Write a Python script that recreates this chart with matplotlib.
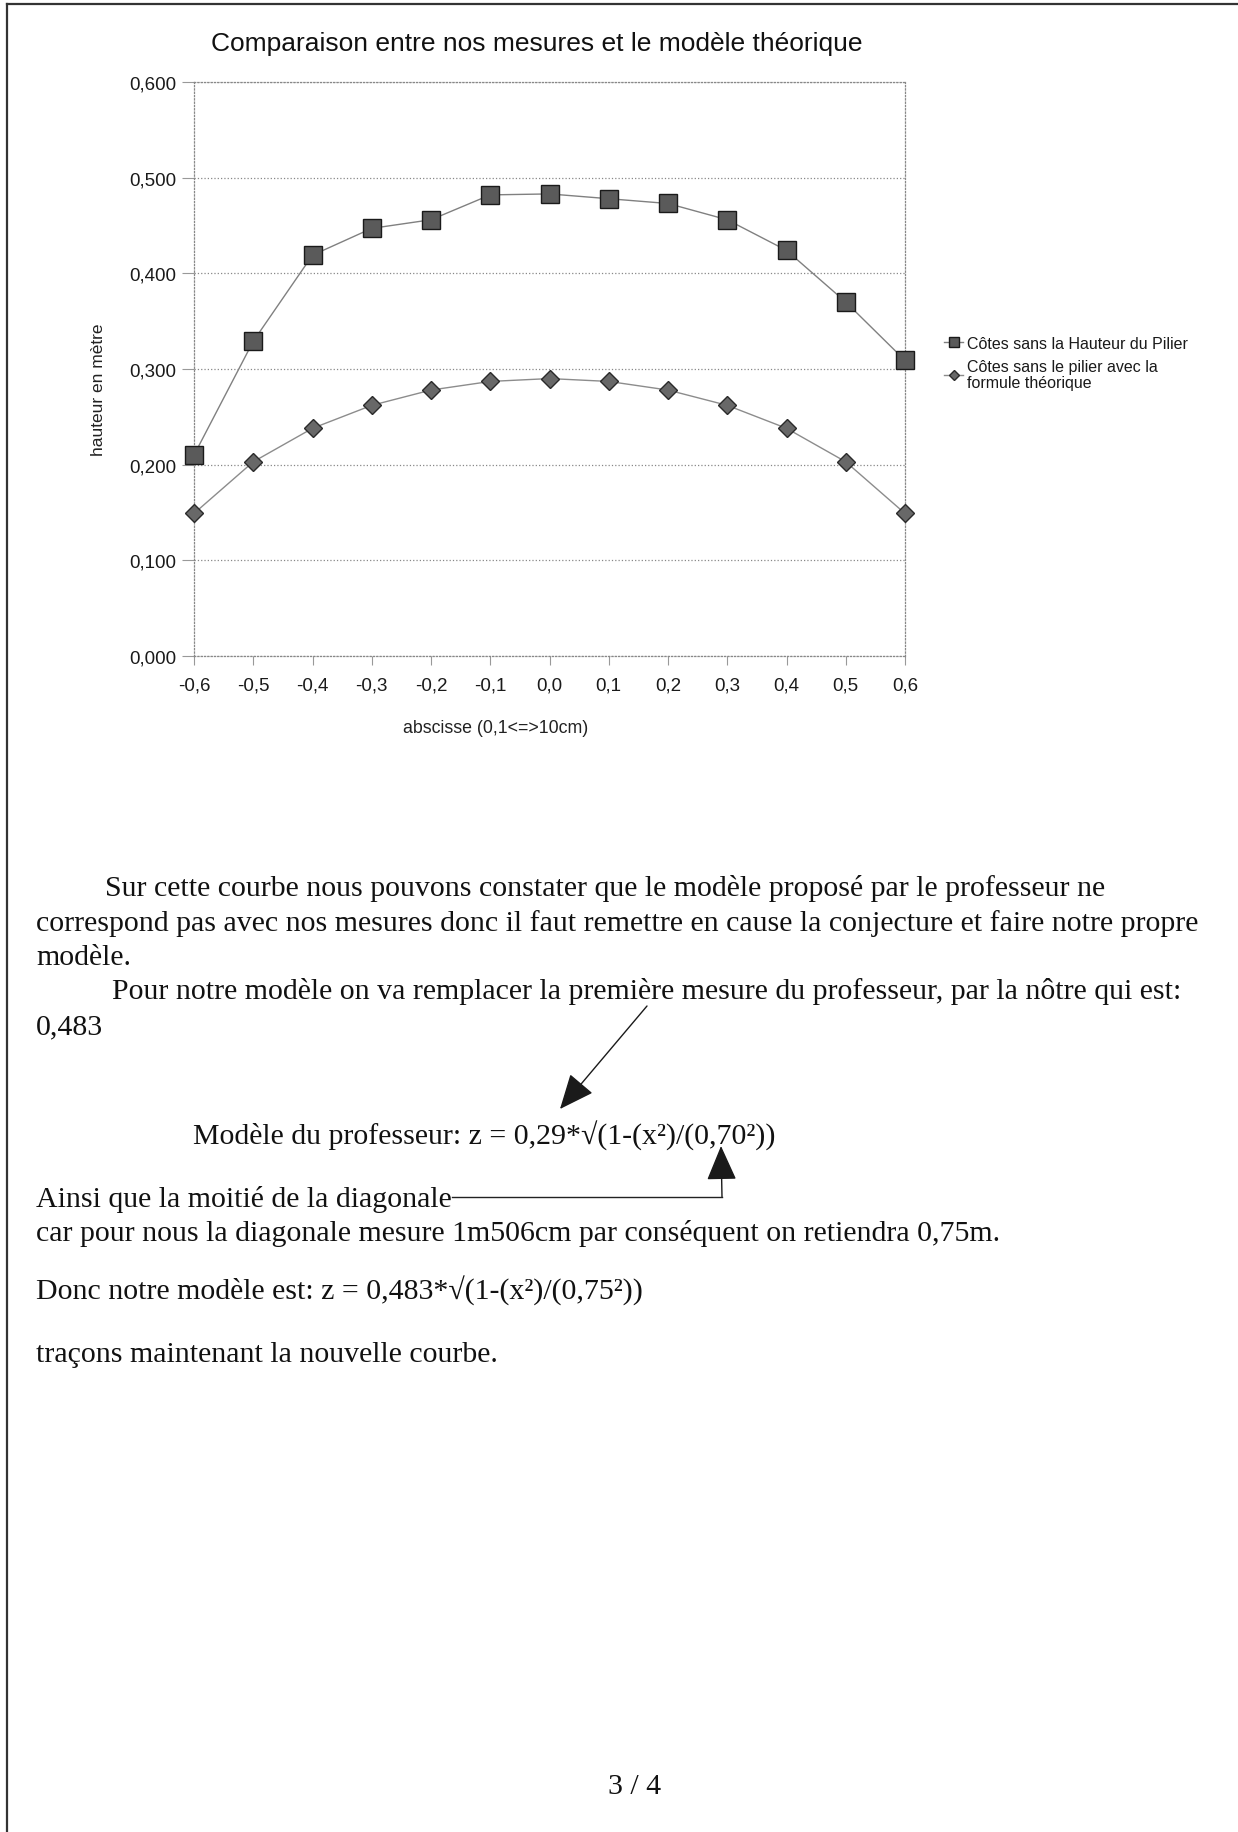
import matplotlib
matplotlib.use("Agg")
import matplotlib.pyplot as plt
from matplotlib.lines import Line2D

plt.rcParams['font.family'] = ['Liberation Sans', 'DejaVu Sans']

# abscisses (m) and measured / theoretical heights (m)
x_vals = [-0.6, -0.5, -0.4, -0.3, -0.2, -0.1, 0.0, 0.1, 0.2, 0.3, 0.4, 0.5, 0.6]
x_labels = ['-0,6', '-0,5', '-0,4', '-0,3', '-0,2', '-0,1', '0,0',
            '0,1', '0,2', '0,3', '0,4', '0,5', '0,6']
mesures = [0.210, 0.329, 0.419, 0.447, 0.456, 0.482, 0.483,
           0.478, 0.473, 0.456, 0.424, 0.370, 0.309]
theorique = [0.149, 0.203, 0.238, 0.262, 0.278, 0.287, 0.290,
             0.287, 0.278, 0.262, 0.238, 0.203, 0.149]
y_ticks = [0.0, 0.1, 0.2, 0.3, 0.4, 0.5, 0.6]
y_labels = ['0,000', '0,100', '0,200', '0,300', '0,400', '0,500', '0,600']

label_mesures = 'Côtes sans la Hauteur du Pilier'
label_theorique = 'Côtes sans le pilier avec la\nformule théorique'

W, H = 1238, 1833


def fx(px):
    return px / W


def fy(py):
    return 1 - py / H


fig = plt.figure(figsize=(W / 100, H / 100), dpi=100)
fig.patch.set_facecolor('white')

# page edges of the scanned sheet
fig.add_artist(Line2D([fx(7), fx(7)], [0, fy(5)], color='#333333', lw=1.6))
fig.add_artist(Line2D([fx(7), 1], [fy(5), fy(5)], color='#333333', lw=1.6))

# ---- chart ----
ax = fig.add_axes([fx(194), fy(657), (905 - 194) / W, (657 - 83) / H])
ax.plot(x_vals, mesures, color='#808080', lw=1.0, marker='s', ms=12.5,
        mfc='#5a5a5a', mec='#1a1a1a', mew=1.0, clip_on=False, zorder=4,
        label=label_mesures)
ax.plot(x_vals, theorique, color='#8c8c8c', lw=1.0, marker='D', ms=9,
        mfc='#686868', mec='#2a2a2a', mew=1.0, clip_on=False, zorder=4,
        label=label_theorique)

ax.set_xlim(-0.6, 0.6)
ax.set_ylim(0, 0.6)
ax.set_xticks(x_vals)
ax.set_xticklabels(x_labels, fontsize=13.5, color='#1a1a1a')
ax.set_yticks(y_ticks)
ax.set_yticklabels(y_labels, fontsize=13.5, color='#1a1a1a')
ax.tick_params(axis='y', length=8.5, width=0.8, color='#999999', pad=4)
ax.tick_params(axis='x', length=6.5, width=0.8, color='#999999', pad=8)
ax.yaxis.grid(True, ls=':', color='#888888', lw=0.9)
for side in ['left', 'right', 'top', 'bottom']:
    ax.spines[side].set_linestyle(':')
    ax.spines[side].set_color('#888888')
    ax.spines[side].set_linewidth(0.9)

fig.text(fx(537), fy(44), 'Comparaison entre nos mesures et le modèle théorique',
         ha='center', va='center', fontsize=19, color='#111111')
fig.text(fx(98), fy(390), 'hauteur en mètre', rotation=90,
         ha='center', va='center', fontsize=12.5, color='#222222')
fig.text(fx(496), fy(729), 'abscisse (0,1<=>10cm)',
         ha='center', va='center', fontsize=12.8, color='#222222')

leg = ax.legend(loc='upper left', bbox_to_anchor=(fx(944), fy(337)),
                bbox_transform=fig.transFigure, frameon=False,
                fontsize=11.5, markerscale=0.55, handlelength=1.2,
                handletextpad=0.25, labelspacing=0.5, borderpad=0,
                borderaxespad=0)
for t in leg.get_texts():
    t.set_linespacing(1.1)
    t.set_color('#1a1a1a')

# ---- report text ----
serif = ['Liberation Serif', 'DejaVu Serif']
body = [
    (105, 896, 'Sur cette courbe nous pouvons constater que le modèle proposé par le professeur ne'),
    (36, 931, 'correspond pas avec nos mesures donc il faut remettre en cause la conjecture et faire notre propre'),
    (36, 965, 'modèle.'),
    (112, 999, 'Pour notre modèle on va remplacer la première mesure du professeur, par la nôtre qui est:'),
    (36, 1034, '0,483'),
    (193, 1145, 'Modèle du professeur: z = 0,29*√(1-(x²)/(0,70²))'),
    (36, 1207, 'Ainsi que la moitié de la diagonale'),
    (36, 1241, 'car pour nous la diagonale mesure 1m506cm par conséquent on retiendra 0,75m.'),
    (36, 1300, 'Donc notre modèle est: z = 0,483*√(1-(x²)/(0,75²))'),
    (36, 1362, 'traçons maintenant la nouvelle courbe.'),
]
for px, py, s in body:
    fig.text(fx(px), fy(py), s, ha='left', va='baseline', fontsize=21.5,
             family=serif, color='#111111')

fig.text(fx(635), fy(1794), '3 / 4', ha='center', va='baseline',
         fontsize=21.5, family=serif, color='#111111')

# arrows pointing at the formula
arrow_style = '-|>,head_length=2.2,head_width=0.95'
fig.add_artist(plt.Line2D([fx(452), fx(722)], [fy(1198), fy(1198)],
                          color='#222222', lw=1.0))
ax.annotate('', xy=(fx(560), fy(1110)), xytext=(fx(647), fy(1007)),
            xycoords='figure fraction', textcoords='figure fraction',
            arrowprops=dict(arrowstyle=arrow_style, mutation_scale=10,
                            color='#1a1a1a', lw=1.0, shrinkA=0, shrinkB=0))
ax.annotate('', xy=(fx(721), fy(1147)), xytext=(fx(722), fy(1198)),
            xycoords='figure fraction', textcoords='figure fraction',
            arrowprops=dict(arrowstyle=arrow_style, mutation_scale=10,
                            color='#1a1a1a', lw=1.0, shrinkA=0, shrinkB=0))

fig.savefig('out.png', dpi=100, facecolor='white')
